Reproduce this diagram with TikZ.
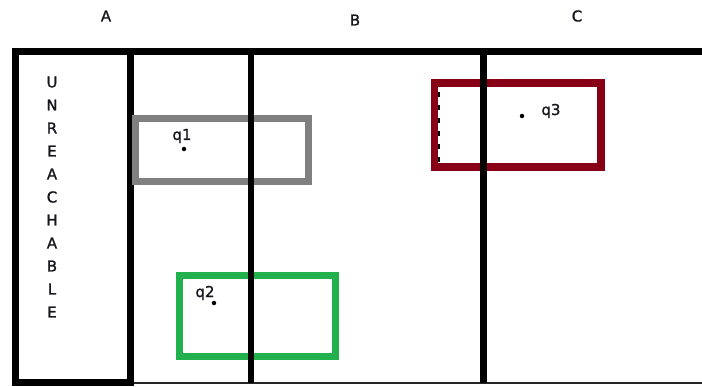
\documentclass[tikz,border=0pt]{standalone}
\usepackage{fontspec}
\setmainfont{DejaVu Sans}
\newfontfamily\lblfont{DejaVu Sans}[FakeBold=1.2]
\definecolor{txtcol}{HTML}{15151C}
\definecolor{boxgrey}{HTML}{808080}
\definecolor{boxred}{HTML}{880015}
\definecolor{boxgreen}{HTML}{22B14C}

\begin{document}
\begin{tikzpicture}[x=1pt, y=-1pt,
  frame/.style={line width=7pt},
  divider/.style={line width=6.5pt},
  zone/.style={line width=7pt},
  lbl/.style={font=\lblfont\fontsize{15}{17}\selectfont, text=txtcol, inner sep=0pt},
  pt/.style={circle, fill=black, inner sep=0pt, minimum size=4.5pt}]
\useasboundingbox (0,0) rectangle (702,386);
% column headers
\node[lbl] (colA) at (106,16) {A};
\node[lbl] (colB) at (355,20) {B};
\node[lbl] (colC) at (577,16) {C};
% outer frame and unreachable column
\draw[frame] (15.5,51.5) -- (702,51.5);
\draw[frame] (15.5,51.5) rectangle (130.5,382);
\draw[line width=2pt, black!85] (134,383) -- (702,383);
\foreach \l [count=\i from 0] in {U,N,R,E,A,C,H,A,B,L,E}
  \node[lbl] (ltr\i) at (52,82+23*\i) {\l};
% query boxes
\draw[zone, boxgrey] (135,118) rectangle (308,181);
\draw[zone, boxred, line width=7.5pt] (434.5,83) rectangle (601,167);
\draw[line width=2pt, dash pattern=on 5pt off 8pt] (439,92) -- (439,163);
\draw[zone, boxgreen] (179,275) rectangle (335.5,356.5);
% column dividers
\draw[divider] (251,52) -- (251,383);
\draw[divider] (483.5,52) -- (483.5,383);
% query points
\node[pt] (p1) at (184,149) {};
\node[pt] (p2) at (214,303) {};
\node[pt] (p3) at (522,116) {};
\node[lbl] (q1) at (182,136) {q1};
\node[lbl] (q2) at (205,293) {q2};
\node[lbl] (q3) at (551,111) {q3};
\end{tikzpicture}
\end{document}
